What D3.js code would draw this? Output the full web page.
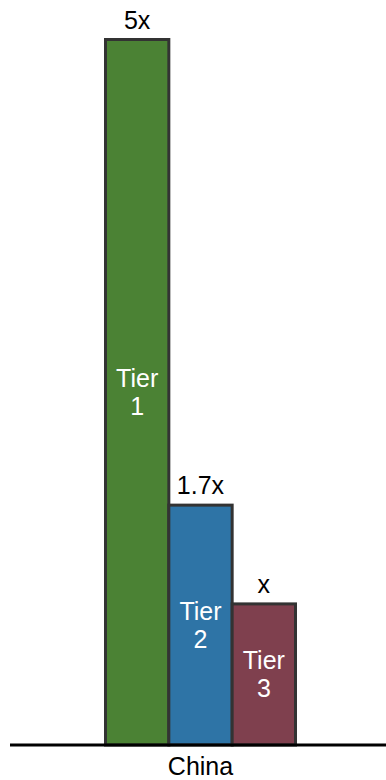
<!DOCTYPE html>
<html>
<head>
<meta charset="utf-8">
<script src="https://cdn.jsdelivr.net/npm/d3@7"></script>
<style>
  html, body { margin: 0; padding: 0; background: #fff; }
  svg { display: block; }
  text { font-family: "Liberation Sans", Arial, sans-serif; }
</style>
</head>
<body>
<svg id="chart" width="386" height="780"></svg>
<script>
// Relative cost multiples by city tier
const tiers = ["Tier 1", "Tier 2", "Tier 3"];
const multiples = [5, 1.7, 1];
const valueLabels = ["5x", "1.7x", "x"];
const colors = ["#4b8234", "#2e74a6", "#7f404e"];
const country = "China";

const svg = d3.select("#chart");
const W = 386, H = 780;
const baseY = 745;
const fontSize = 25;

const x = d3.scaleBand()
  .domain(tiers)
  .range([105.5, 295.5])
  .paddingInner(0)
  .paddingOuter(0);

const y = d3.scaleLinear()
  .domain([0, 5])
  .range([baseY, 39.5]);

const data = tiers.map((t, i) => ({ tier: t, value: multiples[i], label: valueLabels[i], color: colors[i] }));

// Bars
svg.append("g")
  .selectAll("rect")
  .data(data)
  .join("rect")
  .attr("x", d => x(d.tier))
  .attr("y", d => y(d.value))
  .attr("width", x.bandwidth())
  .attr("height", d => baseY - y(d.value))
  .attr("fill", d => d.color)
  .attr("stroke", "#333333")
  .attr("stroke-width", 3);

// Value labels above bars
svg.append("g")
  .selectAll("text")
  .data(data)
  .join("text")
  .attr("x", d => x(d.tier) + x.bandwidth() / 2)
  .attr("y", d => y(d.value) - 11)
  .attr("text-anchor", "middle")
  .attr("font-size", fontSize)
  .attr("fill", "#000")
  .text(d => d.label);

// Tier names inside bars, two lines centered vertically
const inner = svg.append("g")
  .selectAll("text")
  .data(data)
  .join("text")
  .attr("text-anchor", "middle")
  .attr("font-size", fontSize)
  .attr("fill", "#fff");

inner.each(function(d) {
  const parts = d.tier.split(" ");
  const cx = x(d.tier) + x.bandwidth() / 2;
  const cy = (y(d.value) + baseY) / 2;
  const step = 28;
  const capH = fontSize * 0.716;
  const firstBase = cy - (step + capH) / 2 + capH;
  d3.select(this).selectAll("tspan")
    .data(parts)
    .join("tspan")
    .attr("x", cx)
    .attr("y", (p, i) => firstBase + i * step)
    .text(p => p);
});

// Baseline axis
svg.append("line")
  .attr("x1", 10)
  .attr("x2", W)
  .attr("y1", baseY)
  .attr("y2", baseY)
  .attr("stroke", "#000")
  .attr("stroke-width", 3);

// Category label
svg.append("text")
  .attr("x", (x.range()[0] + x.range()[1]) / 2)
  .attr("y", 775)
  .attr("text-anchor", "middle")
  .attr("font-size", fontSize)
  .attr("fill", "#000")
  .text(country);
</script>
</body>
</html>
